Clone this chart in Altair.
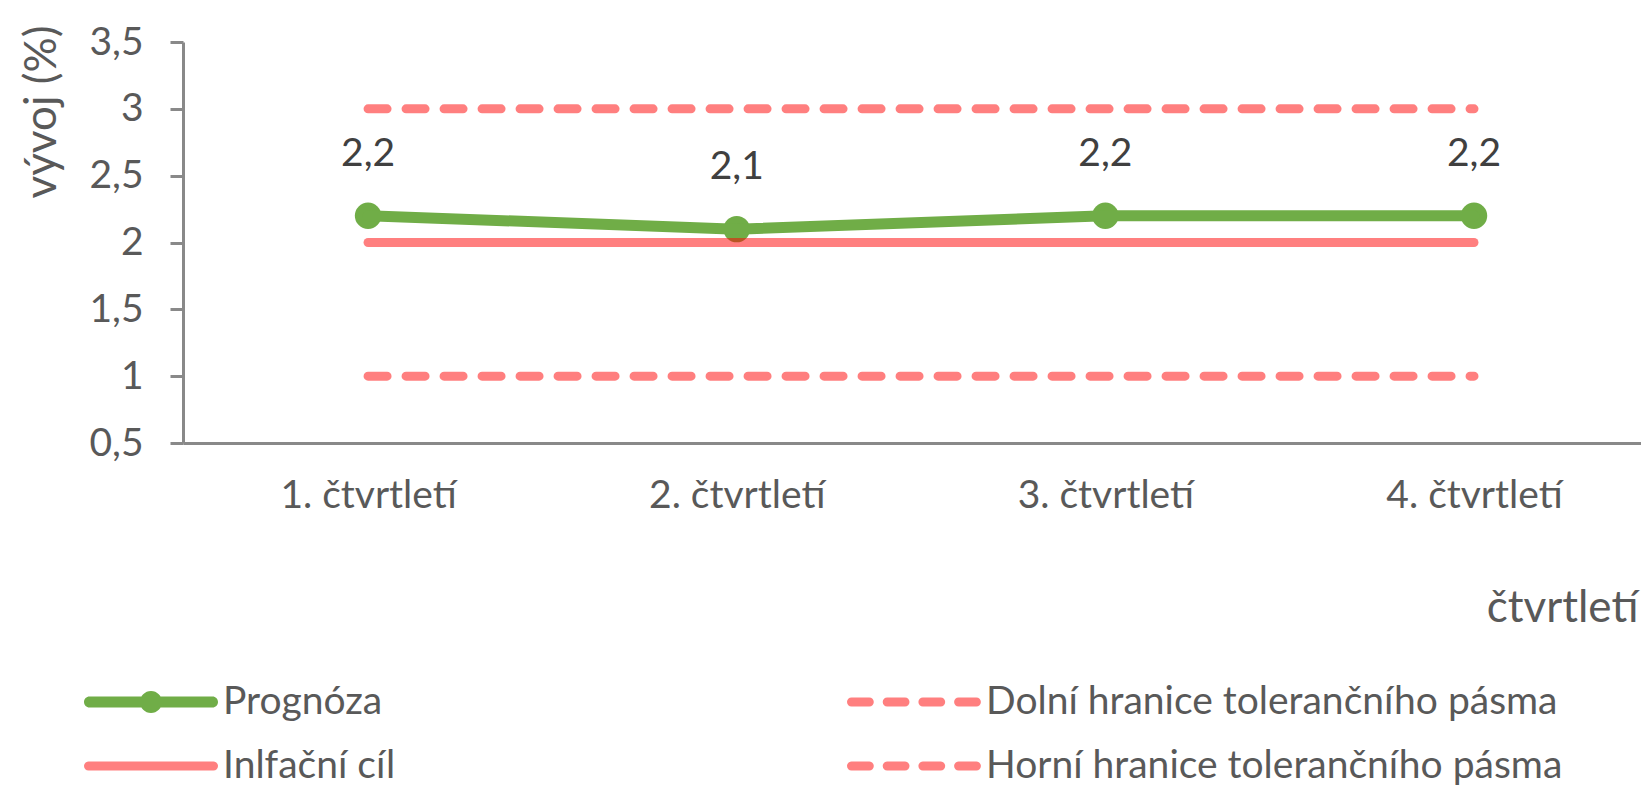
import json
import altair as alt
import pandas as pd

# ---- data ----
quarters = ["1. čtvrtletí", "2. čtvrtletí", "3. čtvrtletí", "4. čtvrtletí"]
prognoza = [2.2, 2.1, 2.2, 2.2]
inflacni_cil = [2.0, 2.0, 2.0, 2.0]
dolni_hranice = [1.0, 1.0, 1.0, 1.0]
horni_hranice = [3.0, 3.0, 3.0, 3.0]
# legend fills column by column
series_order = [
    "Prognóza",
    "Inlfační cíl",
    "Dolní hranice tolerančního pásma",
    "Horní hranice tolerančního pásma",
]
y_ticks = [0.5, 1, 1.5, 2, 2.5, 3, 3.5]

series_values = {
    "Prognóza": prognoza,
    "Inlfační cíl": inflacni_cil,
    "Dolní hranice tolerančního pásma": dolni_hranice,
    "Horní hranice tolerančního pásma": horni_hranice,
}
rows = []
for name, vals in series_values.items():
    for i, v in enumerate(vals):
        rows.append({"q": i + 1, "quarter": quarters[i], "series": name, "value": v})
df = pd.DataFrame(rows)

GREEN = "#70AD47"
RED = "rgba(255,0,0,0.5)"
FONT = "Lato"
TXT = "#595959"

quarter_expr = "[" + ",".join(json.dumps(q, ensure_ascii=False) for q in quarters) + "][datum.value - 1]"

x_enc = alt.X(
    "q:Q",
    scale=alt.Scale(domain=[0.498, 4.453], nice=False, zero=False),
    axis=alt.Axis(
        values=[1, 2, 3, 4], labelExpr=quarter_expr, ticks=False, tickSize=0,
        labelPadding=52, labelBaseline="middle", labelFontSize=39,
        title="čtvrtletí", titleX=1455, titleY=165, titleAlign="right",
        titleBaseline="middle", titleFontSize=44,
    ),
)
y_enc = alt.Y(
    "value:Q",
    scale=alt.Scale(domain=[0.5, 3.5], nice=False, zero=False),
    axis=alt.Axis(
        values=y_ticks, format=".1~f", labelExpr="replace(datum.label, '.', ',')",
        tickSize=13, labelPadding=27, labelFontSize=39,
        title="vývoj (%)", titleX=-141, titleY=-17, titleAngle=-90,
        titleAlign="right", titleBaseline="middle", titleFontSize=44,
    ),
)


# ---- legend symbol shapes ----
def pill(x0, x1, h):
    return (f"M{x0 + h:.4f},{-h:.4f}L{x1 - h:.4f},{-h:.4f}"
            f"A{h:.4f},{h:.4f} 0 0 1 {x1 - h:.4f},{h:.4f}"
            f"L{x0 + h:.4f},{h:.4f}A{h:.4f},{h:.4f} 0 0 1 {x0 + h:.4f},{-h:.4f}Z")


def circle(r):
    return f"M{r:.4f},0A{r:.4f},{r:.4f} 0 1 1 {-r:.4f},0A{r:.4f},{r:.4f} 0 1 1 {r:.4f},0Z"


SYM_BOX = 40.0          # nominal symbol box (px)
U = SYM_BOX / 2         # px per path unit
SYM_W = 134.0           # drawn symbol width (px)
HW = SYM_W / 2 / U      # half width in path units
shape_prog = pill(-HW, HW, 5.5 / U) + circle(11 / U)
shape_solid = pill(-HW, HW, 4.5 / U)
dash_len = 26.8 / U
dash_gap = 8.9 / U
shape_dash = "".join(
    pill(-HW + k * (dash_len + dash_gap), -HW + k * (dash_len + dash_gap) + dash_len, 4.5 / U)
    for k in range(4)
)

legend = alt.Legend(
    title=None, orient="none", legendX=-52, legendY=640, columns=2,
    columnPadding=451, rowPadding=24, padding=0,
    labelFont=FONT, labelFontSize=39, labelColor=TXT, labelOffset=52, labelLimit=2000,
    symbolSize=SYM_BOX * SYM_BOX, symbolStrokeWidth=0, symbolOpacity=1,
)

base = alt.Chart(df)

legend_layer = base.transform_filter(alt.datum.q == 1).mark_point(
    filled=True, opacity=0, size=10
).encode(
    x=x_enc, y=y_enc,
    color=alt.Color("series:N", scale=alt.Scale(domain=series_order,
                    range=[GREEN, RED, RED, RED]), legend=legend),
    shape=alt.Shape("series:N", scale=alt.Scale(domain=series_order,
                    range=[shape_prog, shape_solid, shape_dash, shape_dash]), legend=legend),
)

points = base.transform_filter(alt.datum.series == "Prognóza").mark_point(
    filled=True, size=700, color=GREEN, opacity=1, shape="circle"
).encode(x=x_enc, y=y_enc)

green_line = base.transform_filter(alt.datum.series == "Prognóza").mark_line(
    color=GREEN, strokeWidth=11, strokeCap="round", strokeJoin="round"
).encode(x=x_enc, y=y_enc)

red_solid = base.transform_filter(alt.datum.series == "Inlfační cíl").mark_line(
    color=RED, strokeWidth=9, strokeCap="round"
).encode(x=x_enc, y=y_enc)

red_dashed = base.transform_filter(
    (alt.datum.series == "Dolní hranice tolerančního pásma")
    | (alt.datum.series == "Horní hranice tolerančního pásma")
).mark_line(
    color=RED, strokeWidth=9, strokeCap="round", strokeDash=[19, 19]
).encode(x=x_enc, y=y_enc, detail="series:N")

labels = base.transform_filter(alt.datum.series == "Prognóza").transform_calculate(
    lbl="replace(format(datum.value, '.1f'), '.', ',')"
).mark_text(dy=-62, fontSize=39, font=FONT, color="#404040", baseline="middle").encode(
    x=x_enc, y=y_enc, text="lbl:N"
)

chart = alt.layer(legend_layer, points, green_line, red_solid, red_dashed, labels).properties(
    width=1458, height=401,
    autosize=alt.AutoSizeParams(type="none"),
    padding={"left": 175, "top": 34, "right": 0, "bottom": 345},
).configure_view(stroke=None).configure_axis(
    grid=False, labelFont=FONT, titleFont=FONT, labelColor=TXT, titleColor=TXT,
    domainColor="#898989", tickColor="#898989", domainWidth=3, tickWidth=3,
    titleFontWeight="normal",
)

chart.save("out.html", embed_options={"renderer": "svg", "actions": False})
